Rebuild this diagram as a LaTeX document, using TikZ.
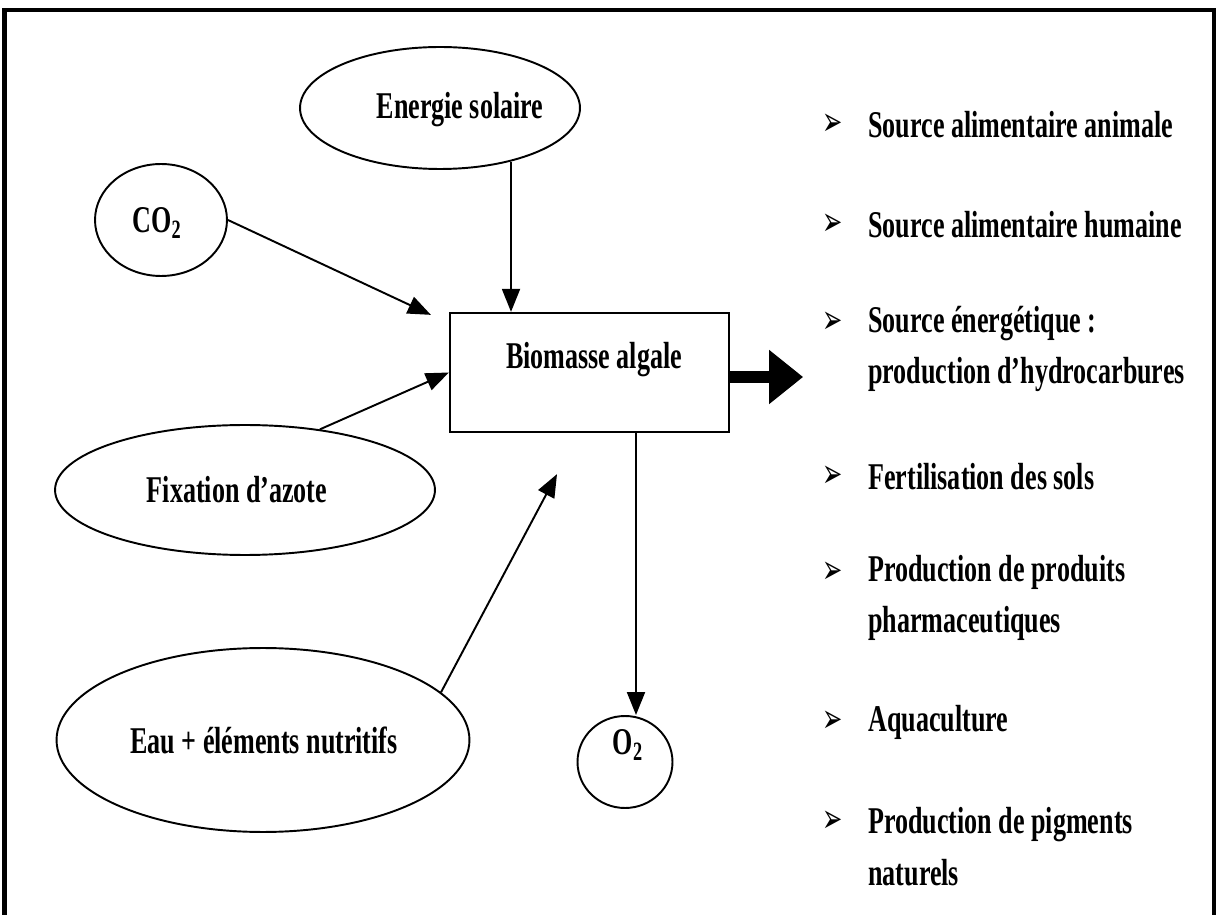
\documentclass[tikz,border=0pt]{standalone}
\usepackage{fontspec}
\setmainfont{Liberation Serif}[FakeStretch=0.69]
\newfontfamily\dejavu{DejaVu Sans}[FakeStretch=0.6]
\usetikzlibrary{arrows.meta,shapes.geometric,calc}
\begin{document}
\begin{tikzpicture}[x=0.02cm,y=-0.02cm,
  every node/.style={font=\fontsize{21.5}{29.5}\selectfont\bfseries},
  ell/.style={draw, ellipse, line width=1.1pt, inner sep=0pt},
  boxnode/.style={draw, rectangle, line width=1.3pt, inner sep=0pt},
  arr/.style={line width=1.1pt, -{Triangle[length=0.46cm,width=0.36cm]}},
  bigarr/.style={line width=0.24cm, -{Triangle[length=0.68cm,width=1.04cm]}},
  item/.style={anchor=west, align=left, inner sep=0pt},
  bul/.style={font=\dejavu\fontsize{23}{23}\selectfont, inner sep=0pt},
  frame/.style={line width=2.4pt}
]
\useasboundingbox (0,0) rectangle (1218,915);
% frame
\draw[frame] (4.5,915) -- (4.5,10) -- (1214,10) -- (1214,915);

% nodes
\node[ell, minimum width=5.6cm, minimum height=2.44cm] (sol) at (440,108) {};
\node (solt) at (460,110) {Energie solaire};
\node[ell, minimum width=2.64cm, minimum height=2.24cm] (co2) at (161,220) {};
\node (co2t) at (157,223) {CO\textsubscript{2}};
\node[boxnode, minimum width=5.58cm, minimum height=2.38cm] (bio) at (589.5,372.5) {};
\node (biot) at (594,360) {Biomasse algale};
\node[ell, minimum width=7.6cm, minimum height=2.6cm] (fix) at (245,490) {};
\node (fixt) at (237,490) {Fixation d’azote};
\node[ell, minimum width=8.26cm, minimum height=3.68cm] (eau) at (263,740) {};
\node (eaut) at (264,740) {Eau + éléments nutritifs};
\node[ell, minimum width=1.9cm, minimum height=1.84cm] (o2) at (625,762) {};
\node (o2t) at (628,745) {O\textsubscript{2}};

% connectors
\draw[arr] (sol.-37.7) -- (sol.-37.7 |- bio.north);
\draw[arr] (co2.east) -- ($(bio.north west)+(-18,3)$);
\draw[arr] (fix.39.6) -- (bio.west);
\draw[arr] (eau.15) -- ($(bio.south)+(-32.5,41)$);
\draw[arr] ($(bio.south)+(46.5,0)$) coordinate (bs) -- (bs |- o2.north);
\draw[bigarr] ($(bio.east)+(0,4.5)$) coordinate (be) -- ($(be)+(73,0)$);

% list
\node[bul] (b1) at (833,125) {➢};
\node[item] (l1) at (868,125) {Source alimentaire animale};
\node[bul] (b2) at (833,225) {➢};
\node[item] (l2) at (868,225) {Source alimentaire humaine};
\node[bul] (b3) at (833,323) {➢};
\node[item] (l3) at (868,349) {Source énergétique :\\production d’hydrocarbures};
\node[bul] (b4) at (833,477) {➢};
\node[item] (l4) at (868,477) {Fertilisation des sols};
\node[bul] (b5) at (833,573) {➢};
\node[item] (l5) at (868,598) {Production de produits\\pharmaceutiques};
\node[bul] (b6) at (833,722) {➢};
\node[item] (l6) at (868,722) {Aquaculture};
\node[bul] (b7) at (833,822) {➢};
\node[item] (l7) at (868,847) {Production de pigments\\naturels};
\end{tikzpicture}
\end{document}
